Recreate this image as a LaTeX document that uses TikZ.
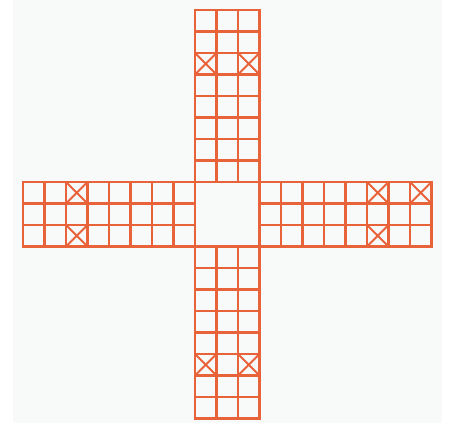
\documentclass[tikz,border=0pt]{standalone}
\usepackage{xcolor}
\usepackage{tikz}

\definecolor{boardline}{RGB}{232,98,58}
\definecolor{boardbg}{RGB}{248,249,249}

\begin{document}
\begin{tikzpicture}[
    x=1.075cm, y=1.075cm,
    board/.style={draw=boardline, line width=3pt, line cap=rect, step=1.075cm},
    cross/.style={draw=boardline, line width=2.8pt}
  ]
    \useasboundingbox (-1.0698,-0.2093) rectangle (20.186,19.465);
    \fill[boardbg] (-0.465,-0.2093) rectangle (19.488,19.465);

    % arms of the board
    \draw[board] (0,8) grid (8,11);
    \draw[board] (11,8) grid (19,11);
    \draw[board] (8,11) grid (11,19);
    \draw[board] (8,0) grid (11,8);
    \draw[board] (8,8) rectangle (11,11);

    % marked squares
    \draw[cross] (8,16) -- (9,17) (8,17) -- (9,16);
    \draw[cross] (10,16) -- (11,17) (10,17) -- (11,16);
    \draw[cross] (8,2) -- (9,3) (8,3) -- (9,2);
    \draw[cross] (10,2) -- (11,3) (10,3) -- (11,2);
    \draw[cross] (2,10) -- (3,11) (2,11) -- (3,10);
    \draw[cross] (2,8) -- (3,9) (2,9) -- (3,8);
    \draw[cross] (16,10) -- (17,11) (16,11) -- (17,10);
    \draw[cross] (16,8) -- (17,9) (16,9) -- (17,8);
    \draw[cross] (18,10) -- (19,11) (18,11) -- (19,10);
  \end{tikzpicture}
\end{document}
